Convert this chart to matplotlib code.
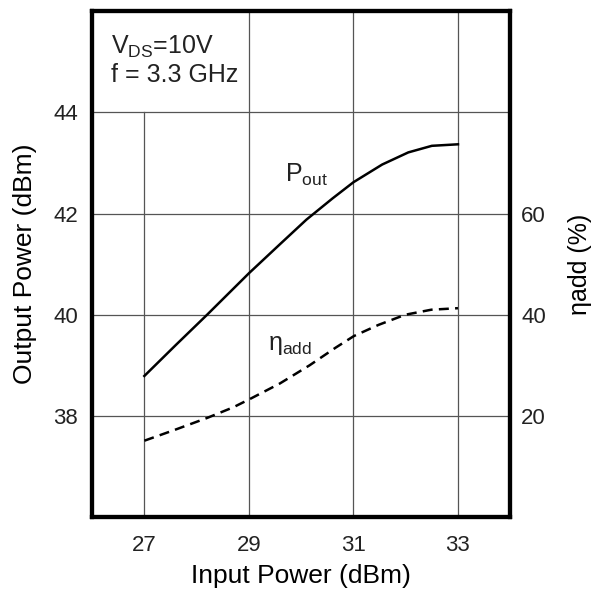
import matplotlib
matplotlib.use("Agg")
import matplotlib.pyplot as plt

plt.rcParams['font.family'] = ['Liberation Sans', 'DejaVu Sans']
plt.rcParams['mathtext.fontset'] = 'custom'
plt.rcParams['mathtext.rm'] = 'Liberation Sans'
plt.rcParams['mathtext.it'] = 'Liberation Sans'

# Pout curve (dBm vs input dBm)
pin_pout = [27.0, 27.6, 28.2, 29.0, 29.6, 30.1, 30.6, 31.0, 31.55, 32.05, 32.5, 33.0]
pout = [38.79, 39.4, 40.0, 40.82, 41.4, 41.88, 42.3, 42.62, 42.97, 43.21, 43.34, 43.37]

# added efficiency curve (%)
pin_eta = [27.0, 27.57, 28.2, 28.7, 29.03, 29.59, 30.16, 30.66, 31.01, 31.48, 31.99, 32.49, 33.0]
eta = [15.1, 17.2, 19.6, 21.7, 23.4, 26.4, 30.0, 33.5, 35.8, 38.0, 40.0, 41.0, 41.3]

x_ticks = [27, 29, 31, 33]
y_ticks = [38, 40, 42, 44]
eta_ticks = [20, 40, 60]

fig = plt.figure(figsize=(5.94, 5.93), dpi=100)
ax = fig.add_axes([0.155, 0.128, 0.704, 0.853])
ax.set_xlim(26, 34)
ax.set_ylim(36, 46)

# grid (the 27 line stops under the text box)
gc = '#555555'
for y in y_ticks:
    ax.axhline(y, color=gc, lw=0.9, zorder=1)
for x in x_ticks:
    top = 0.8 if x == 27 else 1.0
    ax.axvline(x, ymax=top, color=gc, lw=0.9, zorder=1)

ax.plot(pin_pout, pout, color='black', lw=1.8, zorder=3)

ax2 = ax.twinx()
ax2.set_ylim(0, 100)
ax2.plot(pin_eta, eta, color='black', lw=1.8, ls=(0, (4, 2.5)), zorder=3)

ax.set_xticks(x_ticks)
ax.set_yticks(y_ticks)
ax2.set_yticks(eta_ticks)
ax.tick_params(length=0, labelsize=16, colors='#222222')
ax.tick_params(axis='x', pad=13)
ax.tick_params(axis='y', pad=10)
ax2.tick_params(length=0, labelsize=16, pad=8, colors='#222222')

for a in (ax, ax2):
    for s in a.spines.values():
        s.set_linewidth(3.0)
        s.set_color('black')

ax.set_xlabel('Input Power (dBm)', fontsize=19, labelpad=6)
ax.set_ylabel('Output Power (dBm)', fontsize=19, labelpad=12)
ax2.set_ylabel('ηadd (%)', fontsize=18, labelpad=16)

ax.text(26.37, 45.16, r'V$_\mathregular{DS}$=10V', fontsize=18, color='#222222')
ax.text(26.37, 44.6, 'f = 3.3 GHz', fontsize=18, color='#222222')
ax.text(29.7, 42.62, r'P$_\mathregular{out}$', fontsize=18, color='#222222')
ax.text(29.36, 39.3, r'$\mathregular{\eta}_\mathregular{add}$', fontsize=18, color='#222222')

fig.savefig('out.png', dpi=100)
